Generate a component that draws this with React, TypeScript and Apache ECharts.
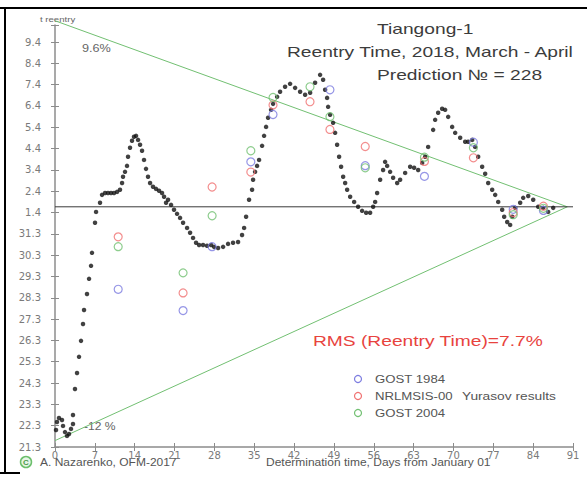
import React, { useEffect, useRef } from "react";
import * as echarts from "echarts";

// Y axis: reentry date (day index, 21 = 21 March ... 40 = 9 April), labels DD.M
const yTickLabels = [
  "21.3", "22.3", "23.3", "24.3", "25.3", "26.3", "27.3", "28.3", "29.3", "30.3",
  "31.3", "1.4", "2.4", "3.4", "4.4", "5.4", "6.4", "7.4", "8.4", "9.4",
];

const actualReentry = 32.27;
const apexDay = 90;
const upperStart = 41.0; // +9.6 %
const lowerStart = 21.3; // -12 %

// Black dots: prediction (determination day, predicted reentry)
const predDays = [
  0.18, 0.35, 0.7, 1.23, 1.41, 1.76, 2.11, 2.46, 2.81, 3.16, 3.16, 3.51, 3.87, 4.22, 4.57,
  4.92, 5.1, 5.62, 5.98, 6.33, 6.5, 7.03, 7.21, 7.91, 8.26, 8.79, 9.31, 9.84, 10.37, 10.9,
  11.42, 11.78, 11.95, 12.3, 12.65, 12.83, 13.18, 13.53, 13.88, 14.24, 14.59, 14.94, 15.29,
  15.64, 15.99, 16.34, 16.7, 17.22, 17.75, 18.28, 18.8, 19.16, 19.51, 19.86, 20.39, 20.91,
  21.44, 21.97, 22.5, 23.2, 23.73, 24.25, 24.78, 25.31, 26.01, 26.71, 27.42, 27.94, 28.65,
  29.53, 30.4, 31.28, 32.16, 32.86, 33.22, 33.57, 34.09, 34.62, 34.8, 35.15, 35.5, 35.85,
  36.38, 36.73, 37.08, 37.43, 37.96, 38.31, 39.02, 39.54, 40.42, 41.3, 42.18, 43.06, 43.94,
  44.82, 45.69, 46.57, 47.1, 47.45, 47.8, 47.98, 48.33, 48.86, 49.21, 49.56, 49.91, 50.26,
  50.62, 50.97, 51.32, 51.85, 52.55, 53.25, 53.95, 54.66, 55.36, 55.89, 56.24, 56.59, 57.12,
  57.64, 57.99, 58.35, 58.87, 59.4, 60.11, 60.63, 61.51, 62.39, 63.09, 63.8, 64.5, 65.03,
  65.55, 66.43, 66.78, 67.31, 68.01, 68.54, 69.07, 69.77, 70.3, 71.18, 72.06, 72.58, 73.29,
  73.81, 74.34, 75.04, 75.57, 76.1, 76.8, 77.33, 77.86, 78.56, 78.91, 79.44, 79.96, 80.32,
  80.84, 81.72, 82.25, 83.13, 84.01, 84.89, 85.76, 86.64, 87.52,
];
const predTimes = [
  21.8, 22.17, 22.36, 22.27, 21.99, 21.7, 21.52, 21.61, 21.85, 22.08, 22.5, 23.72, 24.47,
  25.23, 25.98, 26.77, 27.43, 28.18, 28.89, 29.5, 30.11, 31.52, 32.03, 32.46, 32.83, 32.92,
  32.92, 32.92, 32.92, 32.97, 33.07, 33.39, 33.68, 33.91, 34.19, 34.62, 35.04, 35.37, 35.56,
  35.6, 35.41, 35.18, 34.9, 34.47, 34.05, 33.68, 33.39, 33.21, 33.11, 33.02, 32.92, 32.74,
  32.46, 32.6, 32.36, 32.13, 31.94, 31.75, 31.52, 31.28, 31.05, 30.81, 30.58, 30.48, 30.48,
  30.44, 30.48, 30.39, 30.34, 30.39, 30.53, 30.58, 30.62, 30.95, 31.28, 31.8, 32.6, 33.07,
  33.54, 33.91, 34.19, 34.47, 35.13, 35.6, 36.02, 36.45, 36.82, 37.1, 37.43, 37.67, 37.9,
  38.04, 37.85, 37.67, 37.53, 37.62, 38.09, 38.46, 38.23, 37.76, 37.38, 36.96, 36.59, 36.21,
  35.74, 35.18, 34.62, 34.15, 33.68, 33.39, 33.07, 32.74, 32.5, 32.27, 32.08, 31.99, 31.99,
  32.27, 32.5, 32.92, 33.54, 34.0, 34.38, 34.19, 33.91, 33.63, 33.39, 33.54, 33.86, 34.15,
  34.1, 34.0, 34.33, 34.62, 35.08, 35.88, 36.35, 36.68, 36.87, 36.82, 36.49, 36.02, 35.74,
  35.51, 35.32, 35.32, 35.41, 35.08, 34.62, 34.15, 33.82, 33.39, 33.07, 32.83, 32.5, 32.13,
  31.8, 31.56, 31.42, 31.8, 32.22, 32.46, 32.69, 32.78, 32.6, 32.27, 32.22, 32.03, 32.22,
];

// Yurasov results
const gost1984 = [
  [11.1, 28.4], [22.5, 27.4], [27.6, 30.4], [34.4, 34.38], [38.3, 36.6], [48.3, 37.76],
  [54.5, 34.2], [64.9, 33.7], [73.5, 35.3], [80.5, 32.15], [85.8, 32.1],
];
const nrlmsis00 = [
  [11.1, 30.86], [22.5, 28.23], [27.6, 33.2], [34.4, 33.9], [38.3, 37.05], [44.8, 37.2],
  [48.3, 35.9], [54.5, 35.1], [64.9, 34.4], [73.5, 34.57], [80.5, 32.0], [85.8, 32.3],
];
const gost2004 = [
  [11.1, 30.4], [22.5, 29.17], [27.6, 31.85], [34.4, 34.9], [38.3, 37.4], [44.8, 37.9],
  [48.3, 36.5], [54.5, 34.1], [64.9, 34.6], [73.5, 35.04], [80.5, 31.9], [85.8, 32.2],
];

const BLUE = "#7c7ce0";
const RED = "#f07272";
const GREEN = "#72c072";
const AXIS = "#8c8c8c";
const LABEL = "#7a7a7a";
const SANS = "Liberation Sans, Arial, sans-serif";

export default function App() {
  const ref = useRef<HTMLDivElement>(null);

  useEffect(() => {
    if (!ref.current) return;
    const chart = echarts.init(ref.current, null, { renderer: "svg" });

    const hollow = (name: string, data: number[][], color: string, z: number) => ({
      name,
      type: "scatter",
      data,
      symbol: "circle",
      symbolSize: 8,
      z,
      itemStyle: { color: "rgba(0,0,0,0)", borderColor: color, borderWidth: 1.2 },
      silent: true,
    });

    const txt = (x: number, y: number, text: string, size: number, color: string, sx = 1.28, extra: any = {}) => ({
      type: "text",
      x,
      y,
      scaleX: sx,
      style: { text, fontSize: size, fill: color, fontFamily: SANS, textVerticalAlign: "middle", ...extra },
    });

    const option: any = {
      animation: false,
      backgroundColor: "#ffffff",
      grid: { left: 55, right: 14, top: 25, bottom: 30 },
      xAxis: [
        {
          type: "value", min: 0, max: 91, interval: 7, position: "bottom",
          axisLine: { onZero: false, lineStyle: { color: AXIS, width: 1.5 } },
          axisTick: { show: true, length: 4, lineStyle: { color: AXIS } },
          axisLabel: { color: LABEL, fontSize: 10, fontFamily: "DejaVu Sans", margin: 3 },
          splitLine: { show: false },
        },
        {
          type: "value", min: 0, max: 91, interval: 7, position: "bottom",
          axisLine: { show: false },
          axisTick: { show: true, inside: true, length: 4, lineStyle: { color: AXIS } },
          axisLabel: { show: false },
          splitLine: { show: false },
        },
      ],
      yAxis: [
        {
          type: "value", min: 21, max: 40.8, interval: 1, position: "left",
          axisLine: { show: true, onZero: false, lineStyle: { color: AXIS, width: 1.5 } },
          axisTick: { show: true, length: 4, lineStyle: { color: AXIS } },
          axisLabel: {
            color: LABEL, fontSize: 10, fontFamily: "DejaVu Sans", margin: 14,
            formatter: (v: number) => yTickLabels[Math.round(v - 21)] ?? "",
          },
          splitLine: { show: false },
        },
        {
          type: "value", min: 21, max: 40.8, interval: 1, position: "left",
          axisLine: { show: false },
          axisTick: { show: true, inside: true, length: 4, lineStyle: { color: AXIS } },
          axisLabel: { show: false },
          splitLine: { show: false },
        },
      ],
      series: [
        {
          type: "line", data: [[0, upperStart], [apexDay, actualReentry]], symbol: "none", clip: false,
          lineStyle: { color: GREEN, width: 1 }, silent: true, z: 1,
        },
        {
          type: "line", data: [[0, lowerStart], [apexDay, actualReentry]], symbol: "none", clip: false,
          lineStyle: { color: GREEN, width: 1 }, silent: true, z: 1,
        },
        {
          type: "line", data: [[0, actualReentry], [91, actualReentry]], symbol: "none", clip: false,
          lineStyle: { color: "#3a3a3a", width: 1 }, silent: true, z: 2,
        },
        {
          type: "scatter",
          data: predDays.map((d, i) => [d, predTimes[i]]),
          symbol: "circle",
          symbolSize: 4.5,
          itemStyle: { color: "#111" },
          silent: true,
          z: 3,
        },
        hollow("GOST 1984", gost1984, BLUE, 4),
        hollow("NRLMSIS-00", nrlmsis00, RED, 4),
        hollow("GOST 2004", gost2004, GREEN, 4),
      ],
      graphic: [
        // frame
        { type: "line", shape: { x1: 0, y1: 8, x2: 587, y2: 8 }, style: { stroke: "#000", lineWidth: 2 } },
        { type: "line", shape: { x1: 5, y1: 8, x2: 5, y2: 473 }, style: { stroke: "#000", lineWidth: 2 } },
        { type: "line", shape: { x1: 0, y1: 473, x2: 20, y2: 473 }, style: { stroke: "#000", lineWidth: 2 } },
        // axis caption
        txt(40, 19, "t reentry", 8, "#666", 1.2),
        // titles
        txt(377, 29, "Tiangong-1", 15, "#3c3c3c"),
        txt(287, 52, "Reentry Time, 2018, March - April", 15, "#3c3c3c"),
        txt(377, 75, "Prediction \u2116 = 228", 15, "#3c3c3c"),
        // percentages
        txt(82, 48, "9.6%", 11, "#666", 1.15),
        txt(84, 426, "-12 %", 11, "#666", 1.1),
        // RMS
        txt(313, 341, "RMS (Reentry Time)=7.7%", 15, "#e8433e"),
        // legend
        { type: "circle", shape: { cx: 358, cy: 379, r: 3.5 }, style: { fill: "none", stroke: BLUE, lineWidth: 1.2 } },
        { type: "circle", shape: { cx: 358, cy: 396, r: 3.5 }, style: { fill: "none", stroke: RED, lineWidth: 1.2 } },
        { type: "circle", shape: { cx: 358, cy: 413, r: 3.5 }, style: { fill: "none", stroke: GREEN, lineWidth: 1.2 } },
        txt(375, 379, "GOST 1984", 11, "#555", 1.2),
        txt(375, 396, "NRLMSIS-00", 11, "#555", 1.2),
        txt(462, 396, "Yurasov results", 11, "#555", 1.25),
        txt(375, 413, "GOST 2004", 11, "#555", 1.2),
        // footer
        { type: "circle", shape: { cx: 26, cy: 462, r: 5.5 }, style: { fill: "#e6f5e6", stroke: "#6cbf6c", lineWidth: 1.5 } },
        {
          type: "text", x: 26, y: 462,
          style: { text: "C", fontSize: 8, fontWeight: "bold", fill: "#4a9a4a", fontFamily: SANS, textAlign: "center", textVerticalAlign: "middle" },
        },
        txt(40, 462, "A. Nazarenko, OFM-2017", 10, "#555", 1.2),
        txt(266, 462, "Determination time, Days from January 01", 10, "#555", 1.2),
      ],
    };

    chart.setOption(option);
    return () => chart.dispose();
  }, []);

  return (
    <div
      ref={ref}
      style={{ position: "fixed", left: 0, top: 0, width: 587, height: 477, background: "#fff" }}
    />
  );
}
